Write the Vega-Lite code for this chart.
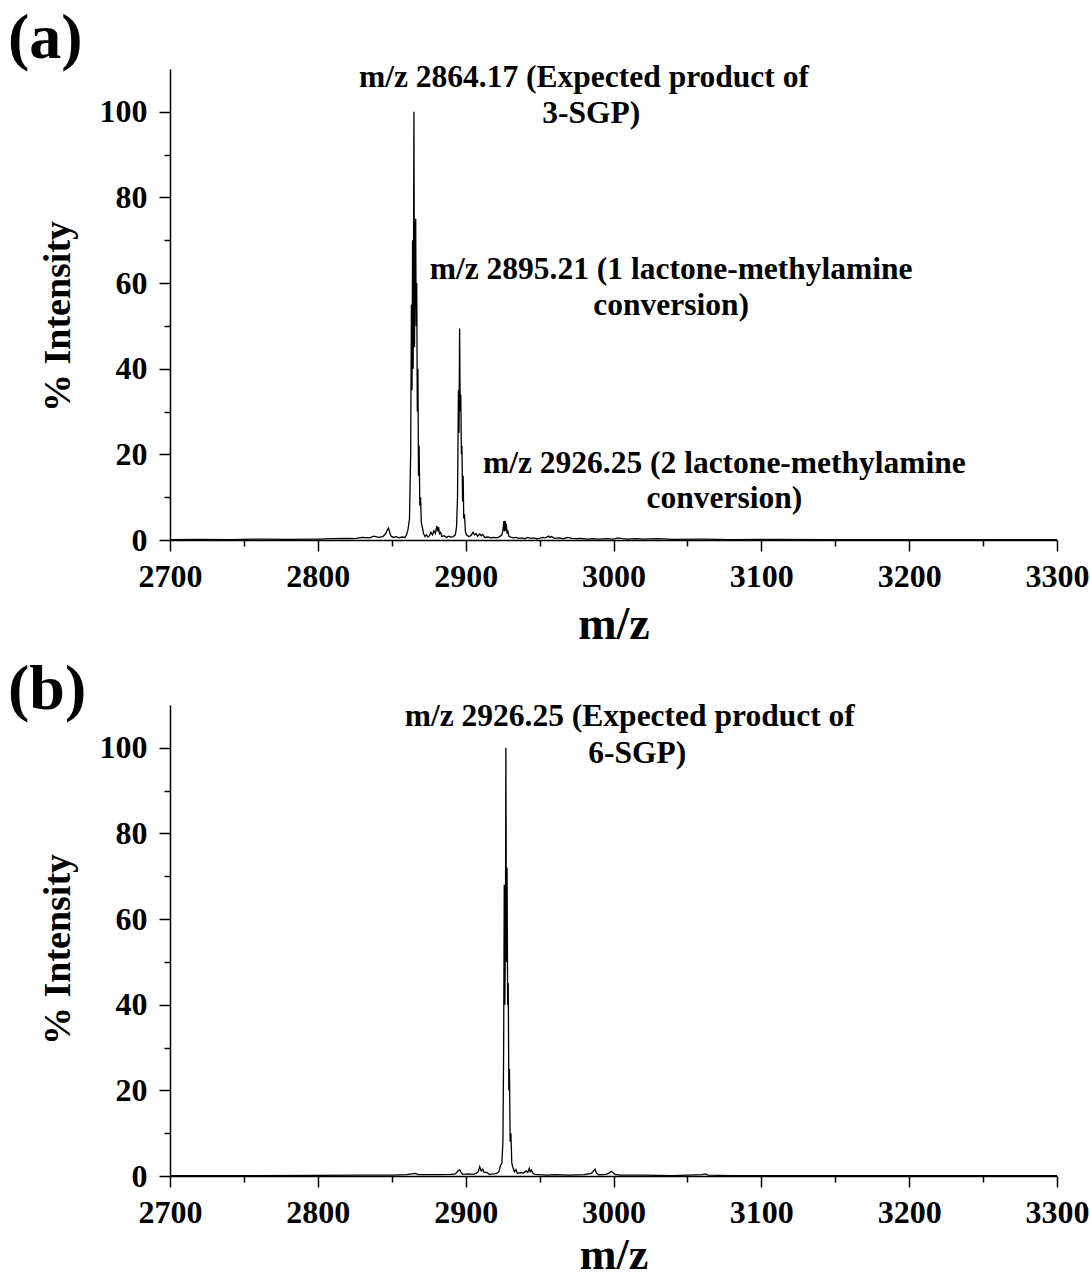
{
  "$schema": "https://vega.github.io/schema/vega-lite/v6.json",
  "padding": {"left": 8, "top": 6, "right": 3, "bottom": 0},
  "background": "white",
  "spacing": 10,
  "config": {
    "font": "Liberation Serif",
    "view": {"stroke": null},
    "axis": {
      "labelFont": "Liberation Serif", "labelFontWeight": "bold", "labelFontSize": 32, "labelColor": "black",
      "titleFont": "Liberation Serif", "titleFontWeight": "bold", "titleColor": "black",
      "domainColor": "black", "tickColor": "black", "domainWidth": 1.5, "tickWidth": 1.5, "grid": false,
      "labelOverlap": false, "labelFlush": false
    },
    "title": {"font": "Liberation Serif", "fontWeight": "bold", "fontSize": 64, "color": "black", "anchor": "start", "frame": "bounds"}
  },
  "datasets": {
    "specA": [
      {"mz": 2700, "i": 0.1}, {"mz": 2720, "i": 0.15}, {"mz": 2740, "i": 0.1}, {"mz": 2760, "i": 0.2}, {"mz": 2780, "i": 0.15},
      {"mz": 2800, "i": 0.2}, {"mz": 2810, "i": 0.3}, {"mz": 2820, "i": 0.4}, {"mz": 2825, "i": 0.3}, {"mz": 2830, "i": 0.6},
      {"mz": 2835, "i": 0.5}, {"mz": 2838, "i": 0.9}, {"mz": 2841, "i": 0.6}, {"mz": 2844, "i": 0.8}, {"mz": 2846, "i": 1.5},
      {"mz": 2847, "i": 2.4}, {"mz": 2847.8, "i": 2.8}, {"mz": 2848.6, "i": 1.8}, {"mz": 2849.5, "i": 0.9}, {"mz": 2851, "i": 0.6},
      {"mz": 2853, "i": 0.8}, {"mz": 2855, "i": 0.5}, {"mz": 2857, "i": 0.7}, {"mz": 2859, "i": 0.6}, {"mz": 2860, "i": 1.2},
      {"mz": 2861, "i": 2.5}, {"mz": 2862, "i": 5}, {"mz": 2862.8, "i": 20}, {"mz": 2863.3, "i": 55}, {"mz": 2863.7, "i": 35},
      {"mz": 2864.1, "i": 70}, {"mz": 2864.5, "i": 40}, {"mz": 2865.0, "i": 100}, {"mz": 2865.4, "i": 45}, {"mz": 2865.8, "i": 72},
      {"mz": 2866.2, "i": 75}, {"mz": 2866.5, "i": 50}, {"mz": 2866.9, "i": 60}, {"mz": 2867.3, "i": 30}, {"mz": 2867.7, "i": 40},
      {"mz": 2868.1, "i": 15}, {"mz": 2868.5, "i": 22}, {"mz": 2869.0, "i": 8}, {"mz": 2869.5, "i": 10}, {"mz": 2870, "i": 4},
      {"mz": 2870.7, "i": 3}, {"mz": 2871.5, "i": 1.5}, {"mz": 2872.5, "i": 0.8}, {"mz": 2873.5, "i": 1.2}, {"mz": 2874.5, "i": 0.7},
      {"mz": 2875.5, "i": 1.0}, {"mz": 2876.5, "i": 1.8}, {"mz": 2877.5, "i": 1.2}, {"mz": 2878.5, "i": 2.2}, {"mz": 2879.5, "i": 1.5},
      {"mz": 2880.5, "i": 3.3}, {"mz": 2881.1, "i": 2.0}, {"mz": 2881.7, "i": 3.0}, {"mz": 2882.3, "i": 1.5}, {"mz": 2883, "i": 1.8},
      {"mz": 2884, "i": 0.8}, {"mz": 2885.5, "i": 1.0}, {"mz": 2887, "i": 0.6}, {"mz": 2888.5, "i": 0.9}, {"mz": 2890, "i": 0.7},
      {"mz": 2891.5, "i": 0.8}, {"mz": 2893, "i": 1.2}, {"mz": 2893.8, "i": 3}, {"mz": 2894.5, "i": 10}, {"mz": 2895.1, "i": 35},
      {"mz": 2895.5, "i": 25}, {"mz": 2895.9, "i": 49.4}, {"mz": 2896.3, "i": 30}, {"mz": 2896.7, "i": 34}, {"mz": 2897.1, "i": 20},
      {"mz": 2897.5, "i": 22}, {"mz": 2897.9, "i": 9}, {"mz": 2898.3, "i": 15}, {"mz": 2898.7, "i": 5}, {"mz": 2899.2, "i": 6},
      {"mz": 2899.8, "i": 2}, {"mz": 2900.5, "i": 1.2}, {"mz": 2902, "i": 0.8}, {"mz": 2903.5, "i": 1.0}, {"mz": 2905, "i": 1.8},
      {"mz": 2906, "i": 1.2}, {"mz": 2907, "i": 1.5}, {"mz": 2908, "i": 0.9}, {"mz": 2909.5, "i": 1.4}, {"mz": 2910.5, "i": 1.0},
      {"mz": 2911.5, "i": 1.3}, {"mz": 2913, "i": 0.6}, {"mz": 2915, "i": 0.7}, {"mz": 2917, "i": 0.5}, {"mz": 2919, "i": 0.6},
      {"mz": 2921, "i": 0.5}, {"mz": 2923, "i": 0.8}, {"mz": 2924.5, "i": 1.2}, {"mz": 2925.3, "i": 2.5}, {"mz": 2925.8, "i": 4.4},
      {"mz": 2926.2, "i": 2.0}, {"mz": 2926.7, "i": 4.5}, {"mz": 2927.1, "i": 2.2}, {"mz": 2927.5, "i": 3.8}, {"mz": 2928, "i": 1.5},
      {"mz": 2928.6, "i": 2.0}, {"mz": 2929.3, "i": 0.8}, {"mz": 2930.5, "i": 0.7}, {"mz": 2932, "i": 0.5}, {"mz": 2934, "i": 0.6},
      {"mz": 2936, "i": 0.4}, {"mz": 2938, "i": 0.5}, {"mz": 2940, "i": 0.3}, {"mz": 2942, "i": 0.6}, {"mz": 2944, "i": 0.4},
      {"mz": 2946, "i": 0.5}, {"mz": 2948, "i": 0.3}, {"mz": 2950, "i": 0.4}, {"mz": 2952, "i": 0.6}, {"mz": 2954, "i": 0.5},
      {"mz": 2956, "i": 0.9}, {"mz": 2957, "i": 0.6}, {"mz": 2958, "i": 0.8}, {"mz": 2960, "i": 0.4}, {"mz": 2963, "i": 0.5},
      {"mz": 2966, "i": 0.3}, {"mz": 2969, "i": 0.6}, {"mz": 2972, "i": 0.4}, {"mz": 2975, "i": 0.3}, {"mz": 2978, "i": 0.4},
      {"mz": 2982, "i": 0.2}, {"mz": 2986, "i": 0.3}, {"mz": 2990, "i": 0.2}, {"mz": 2995, "i": 0.3}, {"mz": 3000, "i": 0.2},
      {"mz": 3003, "i": 0.5}, {"mz": 3006, "i": 0.3}, {"mz": 3010, "i": 0.2}, {"mz": 3015, "i": 0.3}, {"mz": 3020, "i": 0.2},
      {"mz": 3030, "i": 0.3}, {"mz": 3040, "i": 0.15}, {"mz": 3060, "i": 0.2}, {"mz": 3080, "i": 0.1}, {"mz": 3100, "i": 0.15},
      {"mz": 3150, "i": 0.1}, {"mz": 3200, "i": 0.1}, {"mz": 3250, "i": 0.1}, {"mz": 3300, "i": 0.1}
    ],
    "specB": [
      {"mz": 2700, "i": 0.1}, {"mz": 2750, "i": 0.1}, {"mz": 2800, "i": 0.15}, {"mz": 2830, "i": 0.2}, {"mz": 2850, "i": 0.2},
      {"mz": 2860, "i": 0.3}, {"mz": 2866, "i": 0.6}, {"mz": 2868, "i": 0.3}, {"mz": 2880, "i": 0.3}, {"mz": 2890, "i": 0.4},
      {"mz": 2893, "i": 0.5}, {"mz": 2895, "i": 1.2}, {"mz": 2896, "i": 1.4}, {"mz": 2897, "i": 0.8}, {"mz": 2898, "i": 0.4},
      {"mz": 2902, "i": 0.5}, {"mz": 2905, "i": 0.4}, {"mz": 2907, "i": 0.6}, {"mz": 2908.5, "i": 1.0}, {"mz": 2909.5, "i": 2.2},
      {"mz": 2910.5, "i": 1.2}, {"mz": 2911.5, "i": 1.6}, {"mz": 2912.5, "i": 0.8}, {"mz": 2914, "i": 0.9}, {"mz": 2916, "i": 0.4},
      {"mz": 2919, "i": 0.5}, {"mz": 2921, "i": 0.6}, {"mz": 2922.5, "i": 1.0}, {"mz": 2923.5, "i": 2.5}, {"mz": 2924.5, "i": 3},
      {"mz": 2925.2, "i": 8}, {"mz": 2925.7, "i": 30}, {"mz": 2926.1, "i": 68}, {"mz": 2926.5, "i": 40}, {"mz": 2926.9, "i": 55},
      {"mz": 2927.2, "i": 100}, {"mz": 2927.6, "i": 50}, {"mz": 2928.0, "i": 72}, {"mz": 2928.4, "i": 40}, {"mz": 2928.8, "i": 45},
      {"mz": 2929.2, "i": 20}, {"mz": 2929.6, "i": 25}, {"mz": 2930.1, "i": 8}, {"mz": 2930.6, "i": 10}, {"mz": 2931.2, "i": 3},
      {"mz": 2932, "i": 2}, {"mz": 2933, "i": 1}, {"mz": 2934, "i": 1.5}, {"mz": 2935, "i": 0.6}, {"mz": 2937, "i": 0.8},
      {"mz": 2939, "i": 0.7}, {"mz": 2941, "i": 1.2}, {"mz": 2942, "i": 0.8}, {"mz": 2943, "i": 1.8}, {"mz": 2943.7, "i": 1.0},
      {"mz": 2944.5, "i": 1.4}, {"mz": 2945.5, "i": 0.6}, {"mz": 2947, "i": 0.4}, {"mz": 2950, "i": 0.3}, {"mz": 2955, "i": 0.2},
      {"mz": 2960, "i": 0.3}, {"mz": 2970, "i": 0.2}, {"mz": 2980, "i": 0.3}, {"mz": 2985, "i": 0.6}, {"mz": 2986.5, "i": 1.2},
      {"mz": 2987.5, "i": 1.6}, {"mz": 2988.5, "i": 0.7}, {"mz": 2990, "i": 0.3}, {"mz": 2995, "i": 0.4}, {"mz": 2997.5, "i": 0.8},
      {"mz": 2998.5, "i": 1.1}, {"mz": 2999.5, "i": 0.8}, {"mz": 3001, "i": 0.4}, {"mz": 3005, "i": 0.2}, {"mz": 3020, "i": 0.2},
      {"mz": 3040, "i": 0.1}, {"mz": 3060, "i": 0.3}, {"mz": 3062, "i": 0.5}, {"mz": 3064, "i": 0.2}, {"mz": 3080, "i": 0.1},
      {"mz": 3100, "i": 0.1}, {"mz": 3150, "i": 0.1}, {"mz": 3200, "i": 0.1}, {"mz": 3250, "i": 0.1}, {"mz": 3300, "i": 0.1}
    ],
    "labA": [
      {"mz": 2980, "i": 108, "t": "m/z 2864.17 (Expected product of"},
      {"mz": 2985, "i": 99.5, "t": "3-SGP)"},
      {"mz": 3039, "i": 63, "t": "m/z 2895.21 (1 lactone-methylamine"},
      {"mz": 3039, "i": 54.6, "t": "conversion)"},
      {"mz": 3075, "i": 17.8, "t": "m/z 2926.25 (2 lactone-methylamine"},
      {"mz": 3075, "i": 9.6, "t": "conversion)"}
    ],
    "labB": [
      {"mz": 3011, "i": 107.3, "t": "m/z 2926.25 (Expected product of"},
      {"mz": 3016, "i": 98.6, "t": "6-SGP)"}
    ]
  },
  "vconcat": [
    {
      "title": {"text": "(a)", "offset": -9, "dx": -31},
      "width": 887, "height": 471,
      "layer": [
        {
          "data": {"name": "specA"},
          "mark": {"type": "line", "color": "black", "strokeWidth": 1.3, "clip": true},
          "encoding": {
            "x": {"field": "mz", "type": "quantitative", "title": "m/z",
              "scale": {"domain": [2700, 3300], "nice": false, "zero": false},
              "axis": {"values": [2700, 2750, 2800, 2850, 2900, 2950, 3000, 3050, 3100, 3150, 3200, 3250, 3300],
                "format": "d", "labelExpr": "datum.value % 100 === 0 ? datum.label : ''",
                "tickSize": {"condition": {"test": "datum.value % 100 === 0", "value": 11}, "value": 6},
                "labelPadding": 10, "titleFontSize": 46, "titlePadding": 10}},
            "y": {"field": "i", "type": "quantitative", "title": "% Intensity",
              "scale": {"domain": [0, 110], "nice": false},
              "axis": {"values": [0, 10, 20, 30, 40, 50, 60, 70, 80, 90, 100],
                "format": "d", "labelExpr": "datum.value % 20 === 0 ? datum.label : ''",
                "tickSize": {"condition": {"test": "datum.value % 20 === 0", "value": 11}, "value": 6},
                "labelPadding": 12, "titleFontSize": 38, "titlePadding": 22, "titleY": 247}}
          }
        },
        {
          "data": {"name": "labA"},
          "mark": {"type": "text", "font": "Liberation Serif", "fontWeight": "bold", "fontSize": 31.5, "color": "black", "align": "center", "baseline": "middle"},
          "encoding": {
            "x": {"field": "mz", "type": "quantitative"},
            "y": {"field": "i", "type": "quantitative"},
            "text": {"field": "t", "type": "nominal"}
          }
        }
      ]
    },
    {
      "title": {"text": "(b)", "offset": -21, "dx": -31},
      "width": 887, "height": 471,
      "layer": [
        {
          "data": {"name": "specB"},
          "mark": {"type": "line", "color": "black", "strokeWidth": 1.3, "clip": true},
          "encoding": {
            "x": {"field": "mz", "type": "quantitative", "title": "m/z",
              "scale": {"domain": [2700, 3300], "nice": false, "zero": false},
              "axis": {"values": [2700, 2750, 2800, 2850, 2900, 2950, 3000, 3050, 3100, 3150, 3200, 3250, 3300],
                "format": "d", "labelExpr": "datum.value % 100 === 0 ? datum.label : ''",
                "tickSize": {"condition": {"test": "datum.value % 100 === 0", "value": 11}, "value": 6},
                "labelPadding": 10, "titleFontSize": 44, "titlePadding": 5}},
            "y": {"field": "i", "type": "quantitative", "title": "% Intensity",
              "scale": {"domain": [0, 110], "nice": false},
              "axis": {"values": [0, 10, 20, 30, 40, 50, 60, 70, 80, 90, 100],
                "format": "d", "labelExpr": "datum.value % 20 === 0 ? datum.label : ''",
                "tickSize": {"condition": {"test": "datum.value % 20 === 0", "value": 11}, "value": 6},
                "labelPadding": 12, "titleFontSize": 38, "titlePadding": 22, "titleY": 244}}
          }
        },
        {
          "data": {"name": "labB"},
          "mark": {"type": "text", "font": "Liberation Serif", "fontWeight": "bold", "fontSize": 31.5, "color": "black", "align": "center", "baseline": "middle"},
          "encoding": {
            "x": {"field": "mz", "type": "quantitative"},
            "y": {"field": "i", "type": "quantitative"},
            "text": {"field": "t", "type": "nominal"}
          }
        }
      ]
    }
  ]
}
